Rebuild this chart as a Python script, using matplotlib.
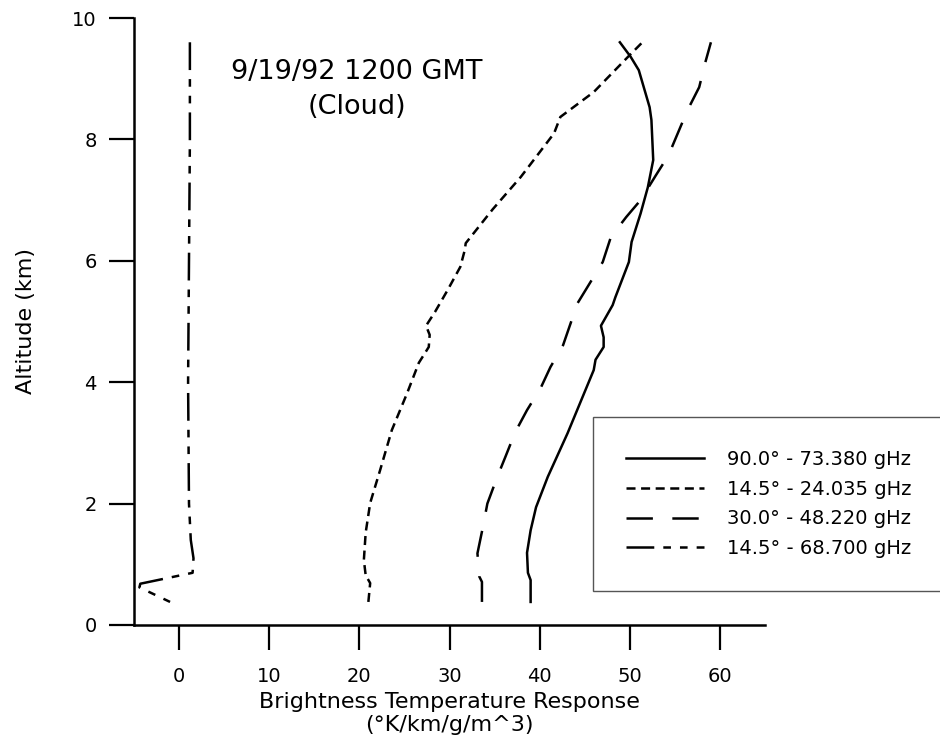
import matplotlib
matplotlib.use("Agg")
import matplotlib.pyplot as plt

# Values (x = response, y = altitude in km)
solid_x = [39.0, 39.0, 38.7, 38.6, 39.0, 39.6, 40.9, 43.1, 46.0, 46.2, 47.1, 47.1,
           46.8, 48.1, 48.4, 49.9, 50.2, 51.2, 52.0, 52.6, 52.4, 52.2, 51.0, 50.1, 48.9]
solid_alt = [0.38, 0.74, 0.86, 1.19, 1.56, 1.94, 2.44, 3.16, 4.2, 4.37, 4.58, 4.74,
             4.93, 5.27, 5.4, 5.98, 6.31, 6.78, 7.21, 7.66, 8.32, 8.53, 9.14, 9.36, 9.6]

short_x = [21.0, 21.2, 20.7, 20.5, 20.7, 21.2, 22.3, 23.6, 25.3, 26.6, 27.7, 27.8,
           27.4, 28.4, 29.8, 31.2, 31.7, 31.8, 34.8, 37.9, 41.6, 42.3, 46.0, 49.8, 51.4]
short_alt = [0.38, 0.69, 0.82, 1.07, 1.52, 2.01, 2.55, 3.21, 3.82, 4.32, 4.58, 4.78,
             4.93, 5.16, 5.52, 5.9, 6.18, 6.29, 6.85, 7.38, 8.1, 8.37, 8.78, 9.36, 9.6]

long_x = [33.6, 33.6, 33.3, 33.1, 33.7, 34.2, 35.3, 36.2, 37.3, 38.6, 40.1, 41.2,
          42.6, 44.2, 47.0, 47.9, 49.6, 51.2, 52.9, 54.3, 56.4, 57.7, 58.4, 59.0]
long_alt = [0.38, 0.71, 0.8, 1.18, 1.61, 2.0, 2.44, 2.77, 3.18, 3.54, 3.9, 4.25,
            4.61, 5.3, 5.98, 6.39, 6.72, 7.0, 7.41, 7.74, 8.48, 8.86, 9.28, 9.6]

ddot_x = [1.2, 1.2, 1.1, 1.0, 1.1, 1.3, 1.6, 1.5, -4.3, -4.4, -1.0]
ddot_alt = [9.6, 8.0, 6.0, 4.0, 2.0, 1.4, 1.1, 0.86, 0.68, 0.62, 0.38]

labels = ["90.0\u00b0 - 73.380 gHz", "14.5\u00b0 - 24.035 gHz",
          "30.0\u00b0 - 48.220 gHz", "14.5\u00b0 - 68.700 gHz"]

plt.rcParams['font.family'] = ['DejaVu Sans']
plt.rcParams['lines.scale_dashes'] = False

fig = plt.figure(figsize=(9.4, 7.51), dpi=100)
ax = fig.add_axes([134 / 940, 1 - 625 / 751, 631 / 940, 607 / 751])

lw = 1.8
ax.plot(solid_x, solid_alt, color='black', lw=lw, label=labels[0])
ax.plot(short_x, short_alt, color='black', lw=lw, label=labels[1],
        linestyle=(0, (6.5, 4.0)))
ax.plot(long_x, long_alt, color='black', lw=lw, label=labels[2],
        linestyle=(0, (19, 14)))
ax.plot(ddot_x, ddot_alt, color='black', lw=lw, label=labels[3],
        linestyle=(0, (20, 6.5, 5.5, 6.5, 5.5, 6.5)))

ax.set_xlim(-5, 65)
ax.set_ylim(0, 10)
ax.set_xticks([0, 10, 20, 30, 40, 50, 60])
ax.set_yticks([0, 2, 4, 6, 8, 10])
for s in ['top', 'right']:
    ax.spines[s].set_visible(False)
for s in ['left', 'bottom']:
    ax.spines[s].set_linewidth(1.8)
ax.tick_params(direction='out', length=18, width=1.6, labelsize=14)
ax.tick_params(axis='x', pad=12)
ax.tick_params(axis='y', pad=9)

ax.set_ylabel("Altitude (km)", fontsize=16)
ax.yaxis.set_label_coords(-0.155, 0.5)
ax.set_xlabel("Brightness Temperature Response\n(\u00b0K/km/g/m^3)", fontsize=16,
              linespacing=1.2)
ax.xaxis.set_label_coords(0.5, -0.11)

ax.text(19.7, 9.11, "9/19/92 1200 GMT", fontsize=19.5, ha='center', va='center')
ax.text(19.7, 8.53, "(Cloud)", fontsize=19.5, ha='center', va='center')

leg = fig.legend(loc='upper left', bbox_to_anchor=(593 / 940, 1 - 417 / 751),
                 borderaxespad=0, fontsize=14, handlelength=4.0,
                 handletextpad=1.2, labelspacing=0.55, borderpad=1.7,
                 fancybox=False, framealpha=1)
leg.get_frame().set_edgecolor('#555555')
leg.get_frame().set_linewidth(1.0)

fig.savefig("out.png", dpi=100)
